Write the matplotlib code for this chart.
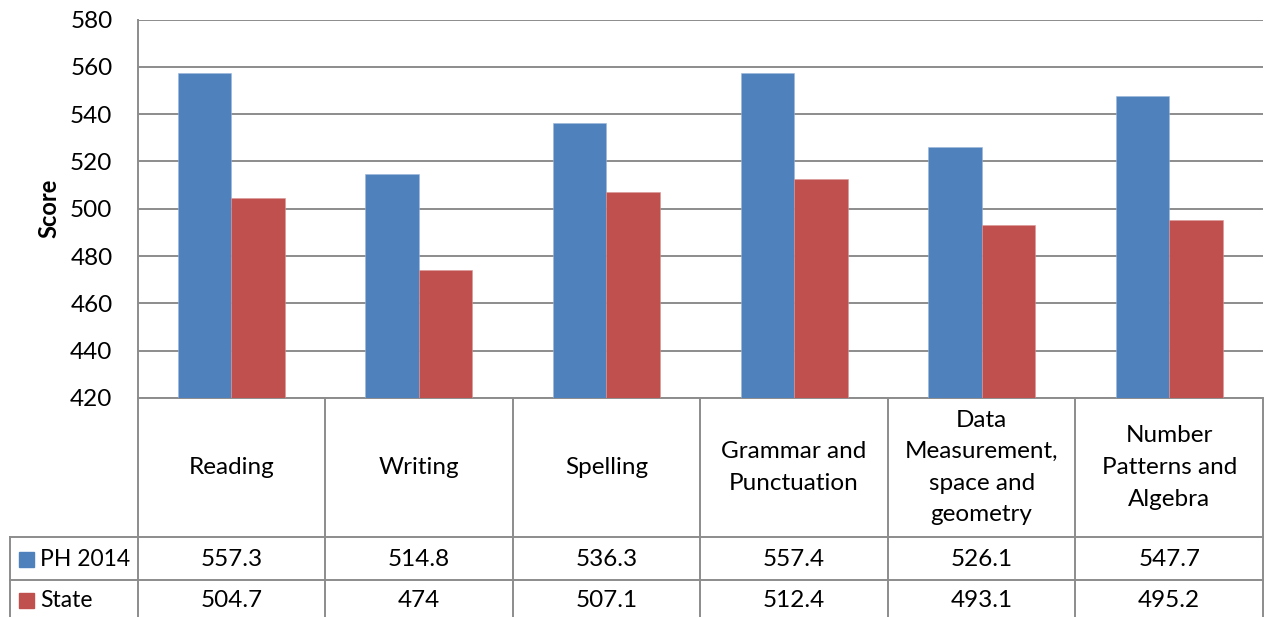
import numpy as np
import matplotlib
matplotlib.use("Agg")
import matplotlib.pyplot as plt

# Scores by strand, school vs state
categories = ["Reading", "Writing", "Spelling", "Grammar and\nPunctuation",
              "Data\nMeasurement,\nspace and\ngeometry",
              "Number\nPatterns and\nAlgebra"]
series_names = ["PH 2014", "State"]
ph_2014 = [557.3, 514.8, 536.3, 557.4, 526.1, 547.7]
state = [504.7, 474, 507.1, 512.4, 493.1, 495.2]
value_labels = [["557.3", "514.8", "536.3", "557.4", "526.1", "547.7"],
                ["504.7", "474", "507.1", "512.4", "493.1", "495.2"]]
yticks = [420, 440, 460, 480, 500, 520, 540, 560, 580]

BLUE = "#4F81BD"
RED = "#C0504D"
GRID = "#8C8C8C"
TEXT = "#000000"
FONT = "Lato"
FS = 17.5

plt.rcParams["font.family"] = [FONT, "DejaVu Sans"]

W, H = 1267, 617
fig = plt.figure(figsize=(W / 100, H / 100), dpi=100, facecolor="white")

# plot area in pixel terms
left, right, top, bottom = 137.5, 1263, 19.5, 398
ax = fig.add_axes([left / W, 1 - bottom / H, (right - left) / W, (bottom - top) / H])

n = len(categories)
x = np.arange(n) + 0.5
bw = 0.285
ax.bar(x - bw / 2, ph_2014, bw, color=BLUE, edgecolor="#9DB7DA", linewidth=0.4, zorder=3)
ax.bar(x + bw / 2, state, bw, color=RED, edgecolor="#D99795", linewidth=0.4, zorder=3)

ax.set_xlim(0, n)
ax.set_ylim(420, 580)
ax.set_yticks(yticks)
ax.set_xticks([])
ax.grid(axis="y", color=GRID, linewidth=1.4, zorder=0)
ax.tick_params(axis="y", length=0, pad=18, labelsize=FS, labelcolor=TEXT)
for s in ["top", "right"]:
    ax.spines[s].set_visible(False)
for s in ["left", "bottom"]:
    ax.spines[s].set_color(GRID)
    ax.spines[s].set_linewidth(1.4)
ax.set_ylabel("Score", fontsize=17, fontweight="bold", labelpad=7)

# data table drawn underneath in pixel coordinates
tax = fig.add_axes([0, 0, 1, 1], facecolor="none")
tax.set_xlim(0, W)
tax.set_ylim(H, 0)
tax.axis("off")

cw = (right - left) / n
edges = [left + i * cw for i in range(n + 1)]
row_head_bottom = 537
row_ph_bottom = 580
legend_left = 10
lw = 1.4

for e in edges:
    tax.plot([e, e], [bottom, H], color=GRID, lw=lw, solid_capstyle="butt")
tax.plot([legend_left, legend_left], [row_head_bottom, H], color=GRID, lw=lw)
for yy in [row_head_bottom, row_ph_bottom]:
    tax.plot([legend_left, right], [yy, yy], color=GRID, lw=lw)

for i, cat in enumerate(categories):
    cx = (edges[i] + edges[i + 1]) / 2
    tax.text(cx, (bottom + row_head_bottom) / 2, cat, ha="center", va="center",
             fontsize=FS, color=TEXT, linespacing=1.62, multialignment="center")

row_centers = [(row_head_bottom + row_ph_bottom) / 2 + 1, (row_ph_bottom + H) / 2 + 2]
for r, (name, col) in enumerate(zip(series_names, [BLUE, RED])):
    cy = row_centers[r]
    tax.add_patch(plt.Rectangle((19, cy - 7.5), 15, 15, color=col))
    tax.text(40, cy, name, ha="left", va="center", fontsize=16.5, color=TEXT)
    for i, lab in enumerate(value_labels[r]):
        cx = (edges[i] + edges[i + 1]) / 2
        tax.text(cx, cy, lab, ha="center", va="center", fontsize=FS, color=TEXT)

fig.savefig("out.png", dpi=100, facecolor="white")
